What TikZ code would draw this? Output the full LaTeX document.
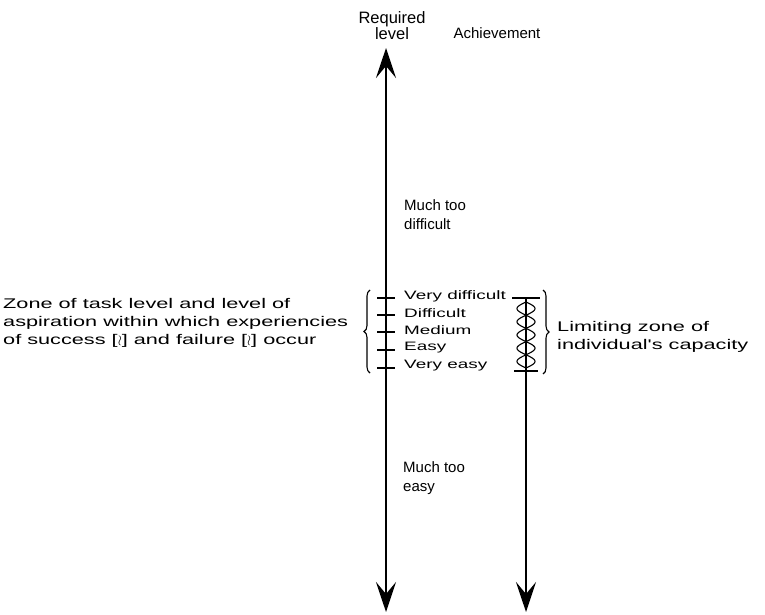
\documentclass[tikz,border=0pt]{standalone}
\usepackage{fontspec}
\setmainfont{Liberation Sans}
\newfontfamily\widefont{Liberation Sans}[FakeStretch=1.55]
\usetikzlibrary{arrows.meta,decorations.pathreplacing}

\begin{document}
\begin{tikzpicture}[x=1pt,y=-1pt,
    >={Stealth[length=30pt,width=20pt,inset=12pt]},
    axis/.style={line width=2.8pt},
    tick/.style={line width=1.4pt},
    strand/.style={line width=1.1pt},
    label/.style={font=\fontsize{15}{19}\selectfont,align=left,inner sep=0pt},
    widelabel/.style={font=\widefont\fontsize{14}{18}\selectfont,align=left,inner sep=0pt},
    level/.style={font=\widefont\fontsize{12.2}{16}\selectfont,anchor=west,inner sep=0pt},
    bracket/.style={decorate,decoration={brace,amplitude=6pt},line width=1.1pt}]
    \useasboundingbox (0,0) rectangle (765,615);

    % Headings
    \node[label,align=center,font=\fontsize{16.5}{16}\selectfont] (required) at (392,26) {Required\\level};
    \node[label] (achieve) at (497,33) {Achievement};

    % Axes
    \coordinate (reqtop) at (386,48);
    \coordinate (reqbot) at (386,612);
    \coordinate (achtop) at (526,298);
    \coordinate (achbot) at (526,612);
    \draw[axis,<->] (reqtop) -- (reqbot);
    \draw[axis,->] (achtop) -- (achbot);

    % Task levels
    \foreach \y/\lab [count=\i] in {298/Very difficult,315/Difficult,332/Medium,350/Easy,368/Very easy}{
        \draw[tick] (377,\y) -- (395,\y);
        \node[level] (lvl\i) at (404,\y-2) {\lab};
    }
    \node[label,anchor=west] (muchhard) at (404,215) {Much too\\difficult};
    \node[label,anchor=west] (mucheasy) at (403,478) {Much too\\easy};

    % Zone of task level
    \draw[bracket] (370,373) -- (370,290);
    \node[widelabel,anchor=west] (zone) at (3,323) {Zone of task level and level of\\aspiration within which experiencies\\of success [$\wr$] and failure [$\wr$] occur};

    % Limiting zone
    \draw[tick] (512,298) -- (540,298);
    \draw[tick] (514,371) -- (538,371);
    \draw[strand] plot[domain=302:368,samples=90,smooth] ({526+9*sin((\x-302)*180/13.2)},\x);
    \draw[strand] plot[domain=302:368,samples=90,smooth] ({526-9*sin((\x-302)*180/13.2)},\x);
    \draw[bracket] (543,290) -- (543,374);
    \node[widelabel,anchor=west] (limit) at (557,337) {Limiting zone of\\individual's capacity};
\end{tikzpicture}
\end{document}
